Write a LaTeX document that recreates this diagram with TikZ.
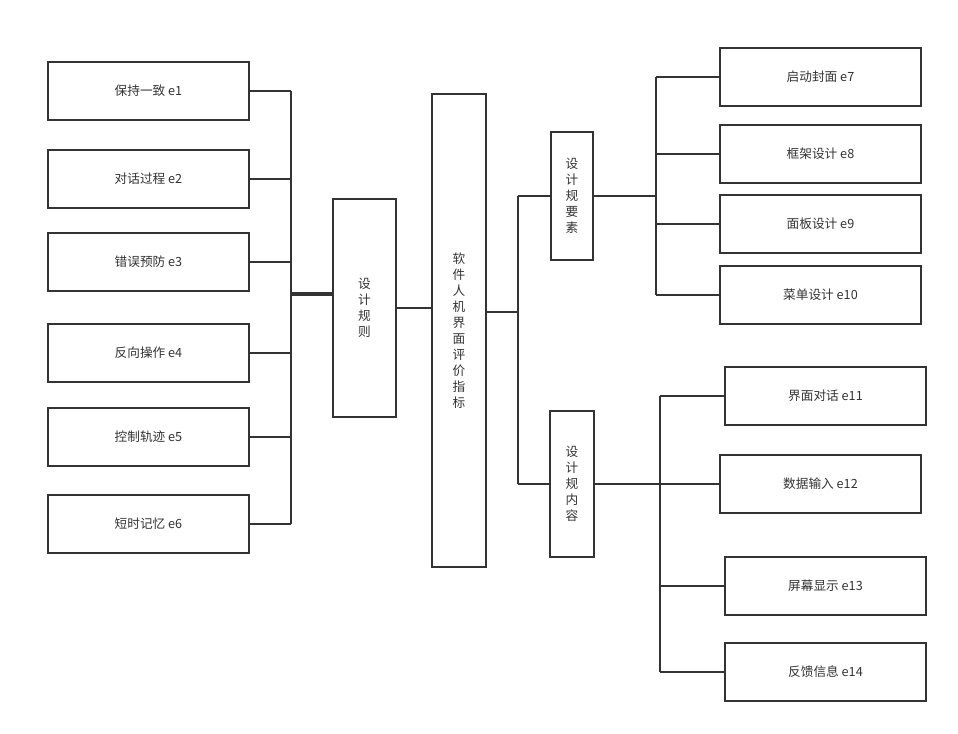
\documentclass[tikz,border=0pt]{standalone}
\usepackage{fontspec}
\setmainfont{Noto Sans CJK SC}
\usepackage{tikz}
\usetikzlibrary{calc,positioning}

\begin{document}
\begin{tikzpicture}[x=0.75pt, y=-0.75pt]
    \tikzstyle{leaf} = [draw=black!80, line width=1.5pt, rectangle, minimum width=150.75pt, minimum height=43.5pt, inner sep=0pt, align=center, text=black!80, font=\fontsize{9.5}{12}\selectfont]
    \tikzstyle{vbox} = [draw=black!80, line width=1.5pt, rectangle, inner sep=0pt, align=center, text=black!80, font=\fontsize{9.5}{12}\selectfont]
    \tikzstyle{link} = [draw=black!80, line width=1.5pt]

    \useasboundingbox (0,0) rectangle (958,733);

    % left side: design rules
    \node[leaf] (e1) at (148.5,91) {保持一致 e1};
    \node[leaf] (e2) at (148.5,179) {对话过程 e2};
    \node[leaf] (e3) at (148.5,262) {错误预防 e3};
    \node[leaf] (e4) at (148.5,353) {反向操作 e4};
    \node[leaf] (e5) at (148.5,437) {控制轨迹 e5};
    \node[leaf] (e6) at (148.5,524) {短时记忆 e6};

    \node[vbox, minimum width=47.25pt, minimum height=163.5pt] (rule) at (364.5,308) {设\\计\\规\\则};
    \node[vbox, minimum width=40.5pt, minimum height=354.75pt] (main) at (459,330.5) {软\\件\\人\\机\\界\\面\\评\\价\\指\\标};

    % right side
    \node[vbox, minimum width=31.5pt, minimum height=96pt] (elem) at (572,196) {设\\计\\规\\要\\素};
    \node[vbox, minimum width=33pt, minimum height=109.5pt] (cont) at (572,484) {设\\计\\规\\内\\容};

    \node[leaf] (e7) at (820.5,77) {启动封面 e7};
    \node[leaf] (e8) at (820.5,154) {框架设计 e8};
    \node[leaf] (e9) at (820.5,224) {面板设计 e9};
    \node[leaf] (e10) at (820.5,295) {菜单设计 e10};

    \node[leaf] (e11) at (825.5,396) {界面对话 e11};
    \node[leaf] (e12) at (820.5,484) {数据输入 e12};
    \node[leaf] (e13) at (825.5,586) {屏幕显示 e13};
    \node[leaf] (e14) at (825.5,672) {反馈信息 e14};

    % bus lines
    \coordinate (busL) at (291,294);
    \coordinate (busM) at (518,312);
    \coordinate (busE) at (656,196);
    \coordinate (busC) at (659.5,484);

    \foreach \n in {e1,e2,e3,e4,e5,e6}
      \draw[link] (\n.east) -- (\n.east -| busL);
    \draw[link] (e1.east -| busL) -- (e6.east -| busL);
    \draw[draw=black!80, line width=3.2pt] (busL) -- (rule.west |- busL);

    \draw[link] (rule.east) -- (main.west |- rule.east);
    \draw[link] (main.east |- busM) -- (busM);
    \draw[link] (busM |- elem.west) -- (busM |- cont.west);
    \draw[link] (busM |- elem.west) -- (elem.west);
    \draw[link] (busM |- cont.west) -- (cont.west);

    \draw[link] (elem.east) -- (busE);
    \draw[link] (busE |- e7.west) -- (busE |- e10.west);
    \foreach \n in {e7,e8,e9,e10}
      \draw[link] (busE |- \n.west) -- (\n.west);

    \draw[link] (cont.east) -- (cont.east -| busC);
    \draw[link] (busC |- e11.west) -- (busC |- e14.west);
    \foreach \n in {e11,e12,e13,e14}
      \draw[link] (busC |- \n.west) -- (\n.west);

  \end{tikzpicture}
\end{document}
